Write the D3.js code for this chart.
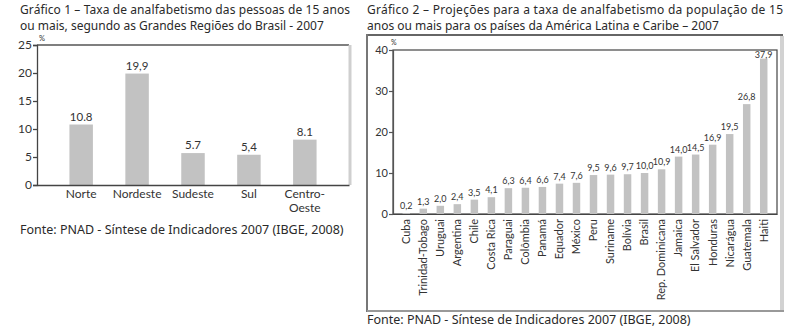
<!DOCTYPE html>
<html>
<head>
<meta charset="utf-8">
<script src="https://cdn.jsdelivr.net/npm/d3@7"></script>
<style>
  body { margin: 0; background: #fff; }
  .title { font-family: "Noto Sans", sans-serif; font-size: 12px; fill: #2a2a2a; }
  .fonte { font-family: "Noto Sans", sans-serif; font-size: 12.5px; fill: #2a2a2a; }
  .lbl { font-family: "Lato", "DejaVu Sans", sans-serif; fill: #333; }
</style>
</head>
<body>
<script>
// Grafico 1 - regioes
const regioes = ["Norte", "Nordeste", "Sudeste", "Sul", "Centro-Oeste"];
const taxaRegioes = [10.8, 19.9, 5.7, 5.4, 8.1];
const rotRegioes = ["10.8", "19,9", "5.7", "5,4", "8.1"];
const ticks1 = [0, 5, 10, 15, 20, 25];

// Grafico 2 - paises
const paises = ["Cuba", "Trinidad-Tobago", "Uruguai", "Argentina", "Chile", "Costa Rica",
  "Paraguai", "Colômbia", "Panamá", "Equador", "México", "Peru", "Suriname", "Bolívia",
  "Brasil", "Rep. Dominicana", "Jamaica", "El Salvador", "Honduras", "Nicarágua",
  "Guatemala", "Haiti"];
const taxaPaises = [0.2, 1.3, 2.0, 2.4, 3.5, 4.1, 6.3, 6.4, 6.6, 7.4, 7.6, 9.5, 9.6, 9.7,
  10.0, 10.9, 14.0, 14.5, 16.9, 19.5, 26.8, 37.9];
const ticks2 = [0, 10, 20, 30, 40];

const barColor = "#c2c2c2";

const svg = d3.select("body").append("svg")
    .attr("width", 812)
    .attr("height", 331);

//---------- GRAFICO 1 ----------
svg.append("text").attr("class", "title")
    .attr("x", 20).attr("y", 14)
    .attr("textLength", 330).attr("lengthAdjust", "spacing")
    .text("Gráfico 1 – Taxa de analfabetismo das pessoas de 15 anos");
svg.append("text").attr("class", "title")
    .attr("x", 20).attr("y", 30)
    .text("ou mais, segundo as Grandes Regiões do Brasil - 2007");

const x1 = d3.scaleBand().domain(regioes).range([37, 349]).padding(0.58);
const y1 = d3.scaleLinear().domain([0, 25]).range([185, 45]);

const g1 = svg.append("g");

// frame: dark top line, light gray right edge
g1.append("line")
    .attr("x1", 37).attr("x2", 349)
    .attr("y1", y1(25)).attr("y2", y1(25))
    .attr("stroke", "#555").attr("stroke-width", 1.5);
g1.append("line")
    .attr("x1", 350).attr("x2", 350)
    .attr("y1", y1(25)).attr("y2", y1(0))
    .attr("stroke", "#cfcfcf").attr("stroke-width", 3);

g1.selectAll(".bar").data(taxaRegioes)
  .enter().append("rect")
    .attr("x", (d, i) => x1(regioes[i]))
    .attr("y", d => y1(d))
    .attr("width", x1.bandwidth())
    .attr("height", d => y1(0) - y1(d))
    .attr("fill", barColor);

g1.selectAll(".val").data(taxaRegioes)
  .enter().append("text")
    .attr("class", "lbl")
    .attr("font-size", 11.5)
    .attr("text-anchor", "middle")
    .attr("x", (d, i) => x1(regioes[i]) + x1.bandwidth() / 2)
    .attr("y", d => y1(d) - 4)
    .text((d, i) => rotRegioes[i]);

const yAxis1 = d3.axisLeft(y1).tickValues(ticks1).tickSize(4).tickPadding(1);
g1.append("g")
    .attr("transform", "translate(37,0)")
    .call(yAxis1)
    .call(g => g.selectAll("path,line").attr("stroke", "#444").attr("stroke-width", 1.3))
    .call(g => g.selectAll("text").attr("class", "lbl").attr("font-size", 12).attr("fill", "#444"));

const xAxis1 = d3.axisBottom(x1).tickSize(0).tickPadding(5).tickFormat("");
g1.append("g")
    .attr("transform", `translate(0,${y1(0)})`)
    .call(xAxis1)
    .call(g => g.select(".domain").attr("stroke", "#444").attr("stroke-width", 1.3));

// category labels (Centro-Oeste on two lines)
g1.selectAll(".cat").data(regioes)
  .enter().append("text")
    .attr("class", "lbl")
    .attr("font-size", 12)
    .attr("text-anchor", "middle")
    .attr("x", d => x1(d) + x1.bandwidth() / 2)
    .attr("y", 198)
    .each(function(d) {
        const parts = d === "Centro-Oeste" ? ["Centro-", "Oeste"] : [d];
        d3.select(this).selectAll("tspan").data(parts)
          .enter().append("tspan")
            .attr("x", x1(d) + x1.bandwidth() / 2)
            .attr("dy", (p, j) => j === 0 ? 0 : 14)
            .text(p => p);
    });

g1.append("text").attr("class", "lbl")
    .attr("font-size", 7.5).attr("x", 39).attr("y", 41).text("%");

svg.append("text").attr("class", "fonte")
    .attr("x", 20).attr("y", 234)
    .text("Fonte: PNAD - Síntese de Indicadores 2007 (IBGE, 2008)");

//---------- GRAFICO 2 ----------
svg.append("text").attr("class", "title")
    .attr("x", 367).attr("y", 14)
    .attr("textLength", 416).attr("lengthAdjust", "spacing")
    .text("Gráfico 2 – Projeções para a taxa de analfabetismo da população de 15");
svg.append("text").attr("class", "title")
    .attr("x", 367).attr("y", 30)
    .text("anos ou mais para os países da América Latina e Caribe – 2007");

// outer box
svg.append("line").attr("x1", 367).attr("x2", 783).attr("y1", 35).attr("y2", 35)
    .attr("stroke", "#666").attr("stroke-width", 2);
svg.append("line").attr("x1", 367).attr("x2", 367).attr("y1", 34).attr("y2", 312)
    .attr("stroke", "#777").attr("stroke-width", 2);
svg.append("line").attr("x1", 782).attr("x2", 782).attr("y1", 36).attr("y2", 311)
    .attr("stroke", "#d2d2d2").attr("stroke-width", 4);
svg.append("line").attr("x1", 367).attr("x2", 784).attr("y1", 311).attr("y2", 311)
    .attr("stroke", "#999").attr("stroke-width", 2);

const x2 = d3.scaleBand().domain(paises).range([393, 777]).padding(0.56);
const y2 = d3.scaleLinear().domain([0, 40]).range([214, 50]);

const g2 = svg.append("g");

g2.append("rect")
    .attr("x", 393).attr("y", y2(40))
    .attr("width", 777 - 393).attr("height", y2(0) - y2(40))
    .attr("fill", "none").attr("stroke", "#444").attr("stroke-width", 1.2);

g2.selectAll(".bar").data(taxaPaises)
  .enter().append("rect")
    .attr("x", (d, i) => x2(paises[i]))
    .attr("y", d => y2(d))
    .attr("width", x2.bandwidth())
    .attr("height", d => y2(0) - y2(d))
    .attr("fill", barColor);

g2.selectAll(".val").data(taxaPaises)
  .enter().append("text")
    .attr("class", "lbl")
    .attr("font-size", 9)
    .attr("fill", "#444")
    .attr("text-anchor", "middle")
    .attr("x", (d, i) => x2(paises[i]) + x2.bandwidth() / 2)
    .attr("y", d => Math.max(y2(d) - 4, 58))
    .text(d => d3.format(".1f")(d).replace(".", ","));

const yAxis2 = d3.axisLeft(y2).tickValues(ticks2).tickSize(4).tickPadding(1);
g2.append("g")
    .attr("transform", "translate(393,0)")
    .call(yAxis2)
    .call(g => g.selectAll("path,line").attr("stroke", "#555").attr("stroke-width", 1.2))
    .call(g => g.selectAll("text").attr("class", "lbl").attr("font-size", 11).attr("fill", "#555"));

const xAxis2 = d3.axisBottom(x2).tickSize(0).tickPadding(0);
g2.append("g")
    .attr("transform", `translate(0,${y2(0)})`)
    .call(xAxis2)
    .call(g => g.select(".domain").attr("stroke", "#444").attr("stroke-width", 1.2))
    .call(g => g.selectAll("text")
        .attr("class", "lbl")
        .attr("font-size", 11)
        .attr("fill", "#333")
        .attr("text-anchor", "end")
        .attr("transform", "rotate(-90)")
        .attr("x", -5)
        .attr("y", 0)
        .attr("dy", "0.35em"));

g2.append("text").attr("class", "lbl")
    .attr("font-size", 7).attr("x", 391).attr("y", 45).text("%");

svg.append("text").attr("class", "fonte")
    .attr("x", 367).attr("y", 324)
    .text("Fonte: PNAD - Síntese de Indicadores 2007 (IBGE, 2008)");
</script>
</body>
</html>
